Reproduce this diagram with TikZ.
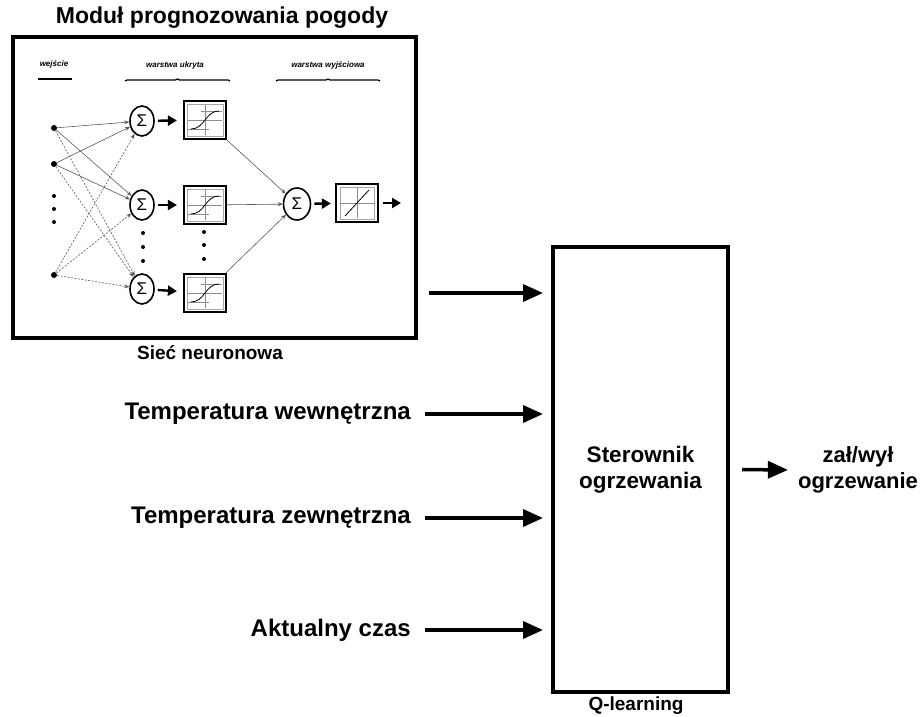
\documentclass[tikz,border=0pt]{standalone}
\usepackage{fontspec}
\setmainfont{Liberation Sans}
\usetikzlibrary{arrows.meta,shapes.geometric,decorations.pathreplacing}

\begin{document}
\begin{tikzpicture}
    [x=1pt, y=-1pt,
 lbl/.style ={font=\fontsize{24}{26}\selectfont\bfseries, inner sep=0pt},
 note/.style ={font=\fontsize{19}{20}\selectfont\bfseries, inner sep=0pt},
 layer/.style ={font=\fontsize{8}{9}\selectfont\bfseries\itshape, inner sep=0pt},
 frame/.style ={rectangle, draw, line width=4pt, inner sep=0pt},
 bigarrow/.style ={line width=3.5pt, -{Triangle[length=20pt,width=17pt]}},
 sarrow/.style ={line width=2.4pt, -{Triangle[length=9pt,width=10pt]}},
 link/.style ={draw=black!65, line width=0.6pt, -{Stealth[length=5pt,width=4pt]}},
 dlink/.style ={link, dash pattern=on 2pt off 1.5pt},
 sum/.style ={ellipse, draw, line width=1.6pt, minimum width=24pt, minimum height=30pt, inner sep=0pt, font=\fontsize{17}{17}\selectfont},
 fbox/.style ={rectangle, draw, line width=2.2pt, minimum width=42pt, minimum height=38pt, inner sep=0pt},
 sigbox/.style ={fbox, path picture={
   \begin{scope}[shift={(path picture bounding box.center)}]
     \draw[black!35, line width=0.6pt] (-18,-16) rectangle (18,16);
     \draw[black!45, line width=0.4pt] (-17,0) -- (17,0) (0,15) -- (0,-15) (-4,-9) -- (17,-9) (-17,9) -- (4,9);
     \draw[line width=0.8pt] (-14,9) .. controls (0,9) and (0,-9) .. (14,-9);
   \end{scope}}},
 linbox/.style ={fbox, path picture={
   \begin{scope}[shift={(path picture bounding box.center)}]
     \draw[black!35, line width=0.6pt] (-17,-16) rectangle (17,16);
     \draw[black!45, line width=0.4pt] (-17,0) -- (17,0) (0,15) -- (0,-15);
     \draw[line width=0.8pt] (-12,13) -- (12,-13);
   \end{scope}}},
 dot/.style ={circle, fill, inner sep=0pt, minimum size=6pt},
 pt/.style ={circle, fill, inner sep=0pt, minimum size=4pt}]
    \useasboundingbox (0,0) rectangle (924,717);

    % neural network module
    \node[lbl, font=\fontsize{23}{26}\selectfont\bfseries] (title) at (222,18) {Moduł prognozowania pogody};
    \node[frame, minimum width=403pt, minimum height=301pt] (nn) at (214.5,187.5) {};
    \node[note] (nnname) at (210,353) {Sieć neuronowa};

    \node[layer] (lin) at (54,64) {wejście};
    \node[layer] (lhid) at (175,65) {warstwa ukryta};
    \node[layer] (lout) at (328,65) {warstwa wyjściowa};
    \draw[line width=1.2pt] (38,79) -- (72,79);
    \draw[line width=1.2pt, decorate, decoration={brace, amplitude=2pt}] (125,81) -- (230,81);
    \draw[line width=1.2pt, decorate, decoration={brace, amplitude=2pt}] (276,81) -- (380,81);

    \node[dot] (i1) at (54,128) {};
    \node[dot] (i2) at (54,164) {};
    \node[dot] (i3) at (54,275) {};
    \foreach \y in {196,209,222} \node[pt] at (54,\y) {};

    \node[sum] (s1) at (142,121) {Σ};
    \node[sum] (s2) at (142,205) {Σ};
    \node[sum] (s3) at (142,289) {Σ};
    \foreach \y in {233,247,261} \node[pt] at (143,\y) {};

    \node[sigbox] (h1) at (205,120) {};
    \node[sigbox] (h2) at (205,205) {};
    \node[sigbox] (h3) at (205,293) {};
    \foreach \y in {232,245,259} \node[pt] at (204,\y) {};

    \node[sum, minimum width=27pt, minimum height=32pt] (so) at (297,204) {Σ};
    \node[linbox] (ho) at (357,203) {};
    \coordinate (nnend) at (401,203);

    \draw[link] (i1) -- (s1);
    \draw[link] (i1) -- (s2);
    \draw[dlink] (i1) -- (s3);
    \draw[link] (i2) -- (s1);
    \draw[link] (i2) -- (s2);
    \draw[dlink] (i2) -- (s3);
    \draw[dlink] (i3) -- (s1);
    \draw[dlink] (i3) -- (s2);
    \draw[dlink] (i3) -- (s3);

    \foreach \n in {1,2,3} \draw[sarrow, shorten <=3pt, shorten >=6pt] (s\n) -- (h\n);
    \foreach \n in {1,2,3} \draw[link] (h\n) -- (so);
    \draw[sarrow, shorten <=3pt, shorten >=4pt] (so) -- (ho);
    \draw[sarrow, shorten <=4pt] (ho) -- (nnend);

    % heating controller
    \node[frame, minimum width=175pt, minimum height=445pt, align=center,
          font=\fontsize{22.5}{26}\selectfont\bfseries] (ster) at (640.5,469.5) {Sterownik\\ogrzewania};
    \node[note] (qlearn) at (636,706) {Q-learning};

    \node[lbl, anchor=east] (tw) at (411,414) {Temperatura wewnętrzna};
    \node[lbl, anchor=east] (tz) at (411,518) {Temperatura zewnętrzna};
    \node[lbl, anchor=east] (czas) at (411,630) {Aktualny czas};
    \node[lbl, align=center, font=\fontsize{22}{26}\selectfont\bfseries] (out) at (858,470) {zał/wył\\ogrzewanie};

    \draw[bigarrow, shorten <=11pt, shorten >=8pt] ([yshift=-105.5pt]nn.east) -- ([yshift=-105.5pt]nn.east -| ster.west);
    \draw[bigarrow, shorten <=14pt, shorten >=8pt] (tw.east) -- (tw.east -| ster.west);
    \draw[bigarrow, shorten <=14pt, shorten >=8pt] (tz.east) -- (tz.east -| ster.west);
    \draw[bigarrow, shorten <=14pt, shorten >=8pt] (czas.east) -- (czas.east -| ster.west);
    \draw[bigarrow, shorten <=12pt, shorten >=10pt] (ster.east) -- (out.west);
\end{tikzpicture}
\end{document}
